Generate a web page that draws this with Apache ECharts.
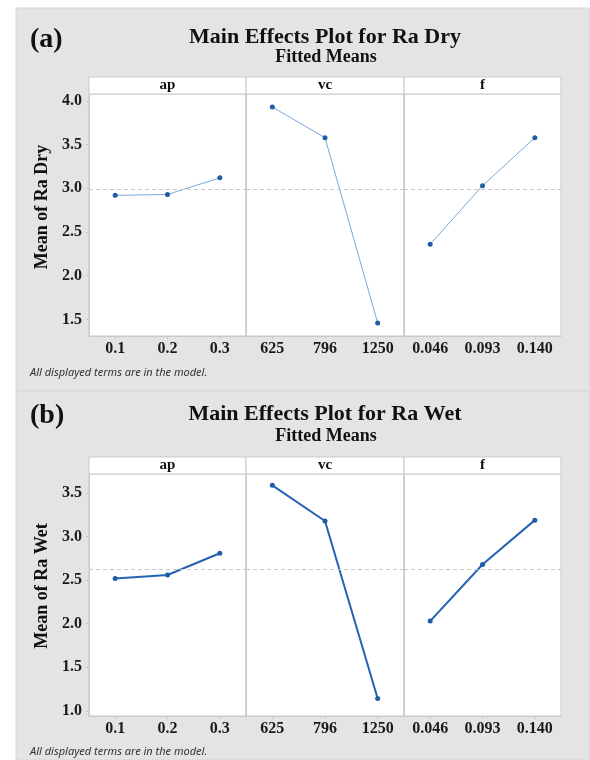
<!DOCTYPE html>
<html>
<head>
<meta charset="utf-8">
<script src="https://cdn.jsdelivr.net/npm/echarts@6/dist/echarts.min.js"></script>
<style>
  html, body { margin: 0; padding: 0; background: #fff; }
  #chart { width: 590px; height: 760px; }
</style>
</head>
<body>
<div id="chart"></div>
<script>
// factor levels
var apLevels = ['0.1', '0.2', '0.3'];
var vcLevels = ['625', '796', '1250'];
var fLevels = ['0.046', '0.093', '0.140'];

// fitted means, Ra dry
var dryAp = [2.92, 2.93, 3.12];
var dryVc = [3.93, 3.58, 1.46];
var dryF = [2.36, 3.03, 3.58];

// fitted means, Ra wet
var wetAp = [2.52, 2.56, 2.81];
var wetVc = [3.59, 3.18, 1.14];
var wetF = [2.03, 2.68, 3.19];

var factorNames = ['ap', 'vc', 'f'];

function mean(arr) {
  var s = 0;
  for (var i = 0; i < arr.length; i++) s += arr[i];
  return s / arr.length;
}

var serif = '"Liberation Serif", "DejaVu Serif", serif';
var dotColor = '#1f5ba6';
var frame = '#c9c9c9';

// panel layout (px)
var cols = [[89, 157], [246, 158], [404, 157]];
var panels = [
  { top: 94, height: 242, min: 1.31, max: 4.08, levels: [apLevels, vcLevels, fLevels],
    data: [dryAp, dryVc, dryF], line: '#7ea7d8', width: 1 },
  { top: 474, height: 242, min: 0.94, max: 3.72, levels: [apLevels, vcLevels, fLevels],
    data: [wetAp, wetVc, wetF], line: '#2463b2', width: 2 }
];

var grids = [], xAxes = [], yAxes = [], series = [];
panels.forEach(function (p, pi) {
  var grand = mean(p.data[0]);
  for (var c = 0; c < 3; c++) {
    var idx = pi * 3 + c;
    grids.push({
      left: cols[c][0], width: cols[c][1], top: p.top, height: p.height,
      show: true, backgroundColor: '#fff', borderColor: frame, borderWidth: 1
    });
    xAxes.push({
      type: 'category', gridIndex: idx, data: p.levels[c], boundaryGap: true,
      axisLine: { show: true, lineStyle: { color: frame } },
      axisTick: { show: true, alignWithLabel: true, length: 3, lineStyle: { color: frame } },
      axisLabel: { margin: 5, fontFamily: serif, fontWeight: 'bold', fontSize: 16, color: '#1a1a1a' }
    });
    yAxes.push({
      type: 'value', gridIndex: idx, min: p.min, max: p.max,
      splitLine: { show: false },
      axisLine: { show: true, lineStyle: { color: frame } },
      axisTick: { show: c === 0, length: 3, lineStyle: { color: frame } },
      axisLabel: {
        show: c === 0, margin: 7, showMinLabel: false, showMaxLabel: false,
        fontFamily: serif, fontWeight: 'bold', fontSize: 16, color: '#1a1a1a',
        formatter: function (v) { return v.toFixed(1); }
      }
    });
    series.push({
      type: 'line', xAxisIndex: idx, yAxisIndex: idx, data: p.data[c],
      symbol: 'circle', symbolSize: 5, silent: true,
      itemStyle: { color: dotColor },
      lineStyle: { color: p.line, width: p.width },
      markLine: {
        silent: true, symbol: 'none', label: { show: false },
        lineStyle: { color: '#c8c8c8', type: [4, 3], width: 1 },
        data: [{ yAxis: grand }]
      }
    });
  }
});

var graphics = [
  { type: 'rect', shape: { x: 16, y: 8, width: 574, height: 383 }, style: { fill: '#e4e4e4', stroke: '#d6d6d6' }, z: -10 },
  { type: 'rect', shape: { x: 16, y: 391, width: 574, height: 369 }, style: { fill: '#e4e4e4', stroke: '#d6d6d6' }, z: -10 }
];

var titles = [
  { tag: '(a)', main: 'Main Effects Plot for Ra Dry', tagY: 40, mainY: 37, subY: 57, head: 77,
    yName: 'Mean of Ra Dry', yNameY: 207, note: 373 },
  { tag: '(b)', main: 'Main Effects Plot for Ra Wet', tagY: 416, mainY: 414, subY: 436, head: 457,
    yName: 'Mean of Ra Wet', yNameY: 586, note: 752 }
];
titles.forEach(function (t) {
  graphics.push({ type: 'text', x: 30, y: t.tagY, style: { text: t.tag, font: 'bold 28px ' + serif, fill: '#111', textVerticalAlign: 'middle' } });
  graphics.push({ type: 'text', x: 325, y: t.mainY, style: { text: t.main, font: 'bold 22px ' + serif, fill: '#111', textAlign: 'center', textVerticalAlign: 'middle' } });
  graphics.push({ type: 'text', x: 326, y: t.subY, style: { text: 'Fitted Means', font: 'bold 18px ' + serif, fill: '#111', textAlign: 'center', textVerticalAlign: 'middle' } });
  graphics.push({ type: 'text', x: 42, y: t.yNameY, rotation: Math.PI / 2,
    style: { text: t.yName, font: 'bold 18px ' + serif, fill: '#111', textAlign: 'center', textVerticalAlign: 'middle' } });
  graphics.push({ type: 'text', x: 30, y: t.note,
    style: { text: 'All displayed terms are in the model.', font: 'italic 11px "Noto Sans", "Open Sans", sans-serif', fill: '#333', textVerticalAlign: 'middle' } });
  for (var c = 0; c < 3; c++) {
    graphics.push({ type: 'rect', shape: { x: cols[c][0], y: t.head, width: cols[c][1], height: 17 },
      style: { fill: '#fff', stroke: frame, lineWidth: 1 } });
    graphics.push({ type: 'text', x: cols[c][0] + cols[c][1] / 2, y: t.head + 8.5,
      style: { text: factorNames[c], font: 'bold 15px ' + serif, fill: '#111', textAlign: 'center', textVerticalAlign: 'middle' } });
  }
});

var chart = echarts.init(document.getElementById('chart'));
chart.setOption({
  animation: false,
  backgroundColor: '#fff',
  grid: grids,
  xAxis: xAxes,
  yAxis: yAxes,
  series: series,
  graphic: graphics
});
window.addEventListener('resize', function () { chart.resize(); });
</script>
</body>
</html>
